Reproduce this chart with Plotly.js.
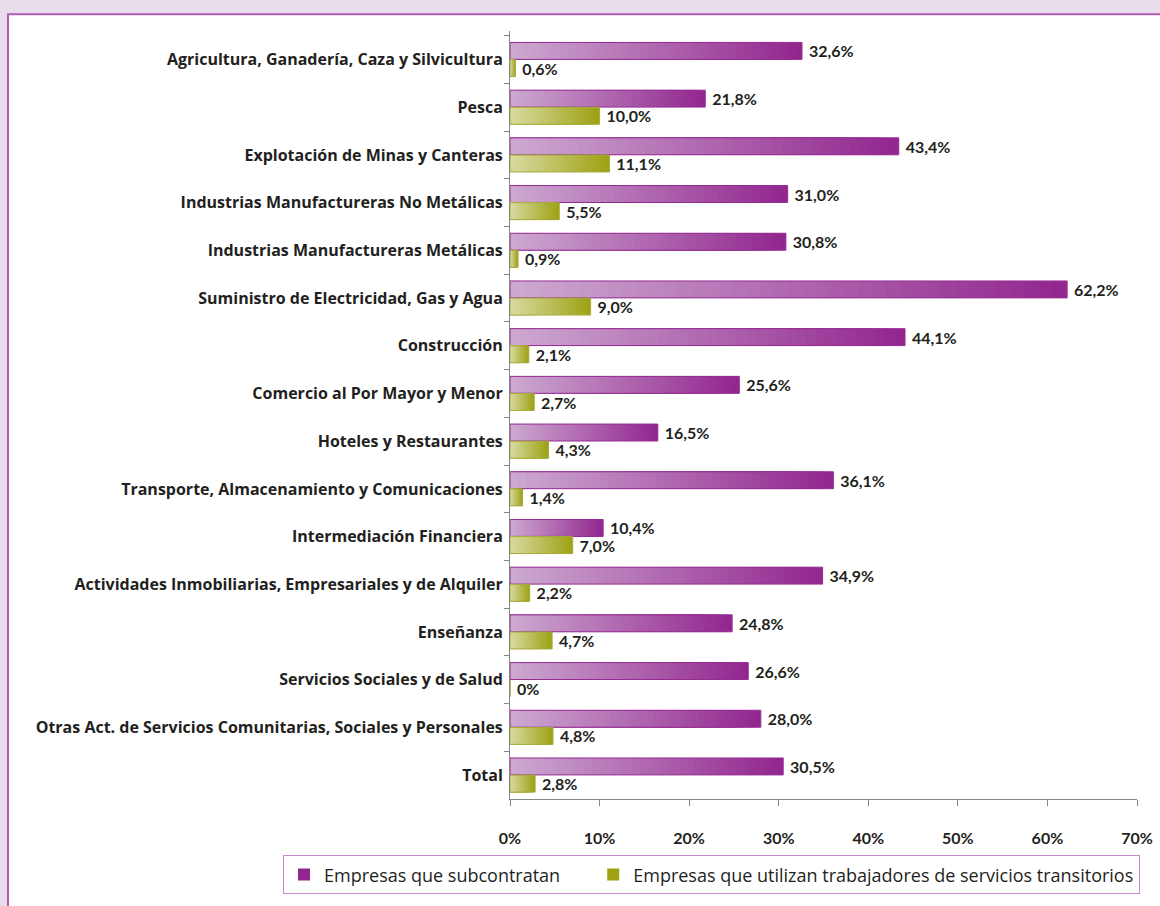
<!DOCTYPE html>
<html>
<head>
<meta charset="utf-8">
<script src="https://cdn.plot.ly/plotly-3.0.1.min.js"></script>
<style>
  html, body { margin: 0; padding: 0; background: #E9DDEC; }
  #chart { width: 1160px; height: 906px; }
</style>
</head>
<body>
<div id="chart"></div>
<script>
const categories = [
  "Agricultura, Ganadería, Caza y Silvicultura",
  "Pesca",
  "Explotación de Minas y Canteras",
  "Industrias Manufactureras No Metálicas",
  "Industrias Manufactureras Metálicas",
  "Suministro de Electricidad, Gas y Agua",
  "Construcción",
  "Comercio al Por Mayor y Menor",
  "Hoteles y Restaurantes",
  "Transporte, Almacenamiento y Comunicaciones",
  "Intermediación Financiera",
  "Actividades Inmobiliarias, Empresariales y de Alquiler",
  "Enseñanza",
  "Servicios Sociales y de Salud",
  "Otras Act. de Servicios Comunitarias, Sociales y Personales",
  "Total"
];
const subcontratan = [32.6, 21.8, 43.4, 31.0, 30.8, 62.2, 44.1, 25.6, 16.5, 36.1, 10.4, 34.9, 24.8, 26.6, 28.0, 30.5];
const transitorios = [0.6, 10.0, 11.1, 5.5, 0.9, 9.0, 2.1, 2.7, 4.3, 1.4, 7.0, 2.2, 4.7, 0.0, 4.8, 2.8];
const seriesNames = ["Empresas que subcontratan", "Empresas que utilizan trabajadores de servicios transitorios"];

const FONT = "Lato, 'Open Sans', sans-serif";
const LABELFONT = "'Open Sans', Lato, sans-serif";
const TXT = "#231F20";

// plot area geometry in pixels (for paper-referenced decoration)
const L = 510, R = 1137, T = 31, B = 807;
const px2x = p => (p - L) / (R - L);
const px2y = p => (B - p) / (B - T);

function fmt(v) {
  return "\u00A0" + (v === 0 ? "0%" : v.toFixed(1).replace(".", ",") + "%");
}
function mix(a, b, t) {
  return "rgb(" + a.map((c, i) => Math.round(c + (b[i] - c) * t)).join(",") + ")";
}

const N = 40;
const traces = [];
function addSeries(vals, name, dark, light, lineColor, offset, width, legendRank) {
  for (let k = 0; k < N; k++) {
    const frac = (N - k) / N;
    traces.push({
      type: "bar", orientation: "h",
      y: categories, x: vals.map(v => v * frac),
      offset: offset, width: width,
      marker: { color: mix(dark, light, k / (N - 1)), line: { width: 0 } },
      name: name, showlegend: k === 0, legendrank: legendRank,
      hoverinfo: "skip"
    });
  }
  traces.push({
    type: "bar", orientation: "h",
    y: categories, x: vals,
    offset: offset, width: width,
    marker: { color: "rgba(0,0,0,0)", line: { width: 1, color: lineColor } },
    text: vals.map(fmt), textposition: "outside", constraintext: "none",
    textfont: { family: FONT, size: 16, weight: "bold", color: TXT },
    cliponaxis: false, showlegend: false, name: name,
    hovertemplate: "%{y}: %{x}%<extra></extra>"
  });
}
addSeries(subcontratan, seriesNames[0] + "\u00A0".repeat(6), [146, 39, 143], [205, 168, 208], "#962C93", -0.36, 0.355, 1);
addSeries(transitorios, seriesNames[1], [158, 162, 20], [216, 218, 160], "#A6AA3A", 0.0, 0.355, 2);

const layout = {
  width: 1160, height: 906,
  margin: { l: L, r: 1160 - R, t: T, b: 906 - B, pad: 0 },
  paper_bgcolor: "#E9DDEC",
  plot_bgcolor: "rgba(0,0,0,0)",
  barmode: "overlay",
  font: { family: FONT, color: TXT },
  xaxis: {
    range: [0, 70], dtick: 10, tick0: 0, ticksuffix: "%",
    showgrid: false, zeroline: false,
    showline: true, linecolor: "#868686", linewidth: 1,
    ticks: "outside", ticklen: 6, tickcolor: "#868686",
    ticklabelstandoff: 19,
    tickfont: { family: FONT, size: 16, weight: "bold", color: TXT },
    fixedrange: true
  },
  yaxis: {
    type: "category",
    range: [15.5, -0.6],
    showgrid: false, zeroline: false,
    showline: true, linecolor: "#868686", linewidth: 1,
    ticks: "outside", ticklen: 5, tickcolor: "#868686", tickson: "boundaries",
    ticklabelstandoff: 3,
    tickfont: { family: LABELFONT, size: 16, weight: "bold", color: TXT },
    fixedrange: true
  },
  showlegend: true,
  legend: {
    orientation: "h",
    x: px2x(283), y: px2y(864), xanchor: "left", yanchor: "top",
    bgcolor: "#FFFFFF", bordercolor: "#C98BCB", borderwidth: 1,
    font: { family: LABELFONT, size: 18, color: TXT },
    traceorder: "normal", itemclick: false, itemdoubleclick: false
  },
  shapes: [
    {
      type: "rect", xref: "paper", yref: "paper", layer: "below",
      x0: px2x(8), x1: px2x(1175), y0: px2y(14), y1: px2y(930),
      fillcolor: "#FFFFFF", line: { color: "#B05BB0", width: 2 }
    }
  ]
};

Plotly.newPlot("chart", traces, layout, { displayModeBar: false, staticPlot: true });
</script>
</body>
</html>
